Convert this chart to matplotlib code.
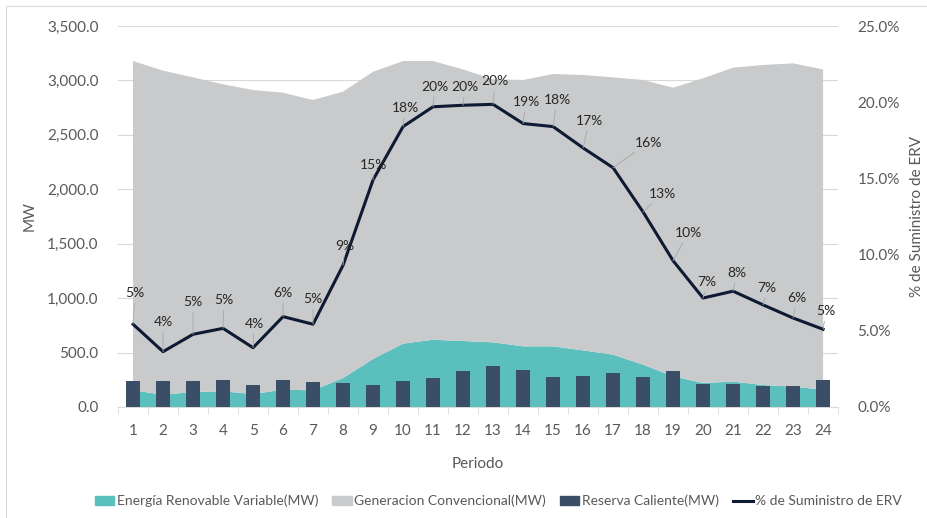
import matplotlib
matplotlib.use('Agg')
import matplotlib.pyplot as plt
from matplotlib.patches import Patch, Rectangle
from matplotlib.lines import Line2D
from matplotlib.ticker import FuncFormatter, FixedLocator

plt.rcParams['font.family'] = ['Lato', 'DejaVu Sans']

# Datos por periodo
periodos = list(range(1, 25))
erv_mw = [153, 113, 138, 144, 119, 159, 153, 266, 441, 582, 618, 606,
          594, 557, 557, 520, 481, 389, 282, 220, 233, 202, 187, 159]
conv_mw = [3025, 2977, 2890, 2820, 2793, 2728, 2667, 2631, 2639, 2596, 2560, 2495,
           2416, 2447, 2502, 2530, 2547, 2615, 2651, 2800, 2884, 2940, 2970, 2942]
reserva_mw = [242, 236, 242, 248, 202, 248, 233, 224, 199, 236, 269, 328,
              374, 343, 279, 288, 312, 279, 334, 208, 208, 190, 196, 245]
pct_erv = [5.43, 3.63, 4.77, 5.16, 3.89, 5.93, 5.43, 9.3, 14.9, 18.4, 19.7, 19.8,
           19.86, 18.6, 18.4, 17.0, 15.7, 12.8, 9.6, 7.15, 7.6, 6.7, 5.84, 5.1]

# posicion de las etiquetas (pixeles respecto al punto)
lbl_off = [(2, 31), (0, 30), (0, 32), (1, 28), (1, 24), (0, 24), (0, 25), (2, 19),
           (0, 15), (2, 19), (2, 20), (2, 18), (2, 23), (3, 22), (4, 27), (6, 27),
           (35, 25), (19, 18), (15, 28), (4, 16), (4, 18), (4, 17), (4, 20), (3, 18)]

c_erv = '#5bbfbd'
c_conv = '#c9cacb'
c_res = '#3b4e68'
c_line = '#0e1a33'
c_txt = '#595959'

fig = plt.figure(figsize=(9.28, 5.18), dpi=100)
ax = fig.add_axes([0.1272, 0.2143, 0.7759, 0.7355])

ax.stackplot(periodos, erv_mw, conv_mw, colors=[c_erv, c_conv], zorder=2)
ax.bar(periodos, reserva_mw, width=0.44, color=c_res, zorder=3)

ax.set_xlim(0.5, 24.5)
ax.set_ylim(0, 3500)
ax.set_yticks(range(0, 3501, 500))
ax.yaxis.set_major_formatter(FuncFormatter(lambda v, p: f'{v:,.1f}'))
ax.grid(axis='y', color='#d9d9d9', lw=0.8, zorder=0)
ax.set_axisbelow(True)
ax.set_xticks(periodos)
ax.xaxis.set_minor_locator(FixedLocator([i + 0.5 for i in range(0, 25)]))
ax.tick_params(axis='x', which='major', length=0, pad=12, labelsize=11, labelcolor=c_txt)
ax.tick_params(axis='x', which='minor', length=5, color='#d9d9d9')
ax.tick_params(axis='y', length=0, pad=14, labelsize=11, labelcolor=c_txt)
for s in ['top', 'right', 'left']:
    ax.spines[s].set_visible(False)
ax.spines['bottom'].set_color('#d9d9d9')
ax.set_xlabel('Periodo', fontsize=11, color=c_txt, labelpad=14)
ax.set_ylabel('MW', fontsize=11, color=c_txt, labelpad=2)
ax.yaxis.set_label_coords(-0.113, 0.5)

ax2 = ax.twinx()
ax2.plot(periodos, pct_erv, color=c_line, lw=2.2, zorder=5)
ax2.set_ylim(0, 25)
ax2.set_yticks(range(0, 26, 5))
ax2.yaxis.set_major_formatter(FuncFormatter(lambda v, p: f'{v:.1f}%'))
ax2.tick_params(axis='y', length=0, pad=14, labelsize=11, labelcolor=c_txt)
for s in ax2.spines.values():
    s.set_visible(False)
ax2.set_ylabel('% de Suministro de ERV', fontsize=11, color=c_txt)
ax2.yaxis.set_label_coords(1.1, 0.5)

for x, v, (dx, dy) in zip(periodos, pct_erv, lbl_off):
    ax2.annotate(f'{round(v)}%', (x, v), xytext=(dx, dy), textcoords='offset pixels',
                 ha='center', va='center', fontsize=10, color='#262626', zorder=6,
                 arrowprops=dict(arrowstyle='-', color='#a6a6a6', lw=0.6,
                                 shrinkA=1, shrinkB=0))

handles = [Patch(color=c_erv), Patch(color=c_conv), Patch(color=c_res),
           Line2D([], [], color=c_line, lw=2.2)]
labels = ['Energía Renovable Variable(MW)', 'Generacion Convencional(MW)',
          'Reserva Caliente(MW)', '% de Suministro de ERV']
fig.legend(handles, labels, loc='center', bbox_to_anchor=(0.537, 0.033), ncol=4,
           frameon=False, fontsize=10, handlelength=1.4, handleheight=0.6,
           handletextpad=0.2, columnspacing=1.0, labelcolor=c_txt)

# borde del grafico
fig.patches.append(Rectangle((6 / 928, -0.1), 1.2, 1 - 6 / 518 + 0.1,
                             transform=fig.transFigure, fill=False,
                             edgecolor='#d9d9d9', lw=0.8))

plt.savefig('out.png', dpi=100)
plt.close()
